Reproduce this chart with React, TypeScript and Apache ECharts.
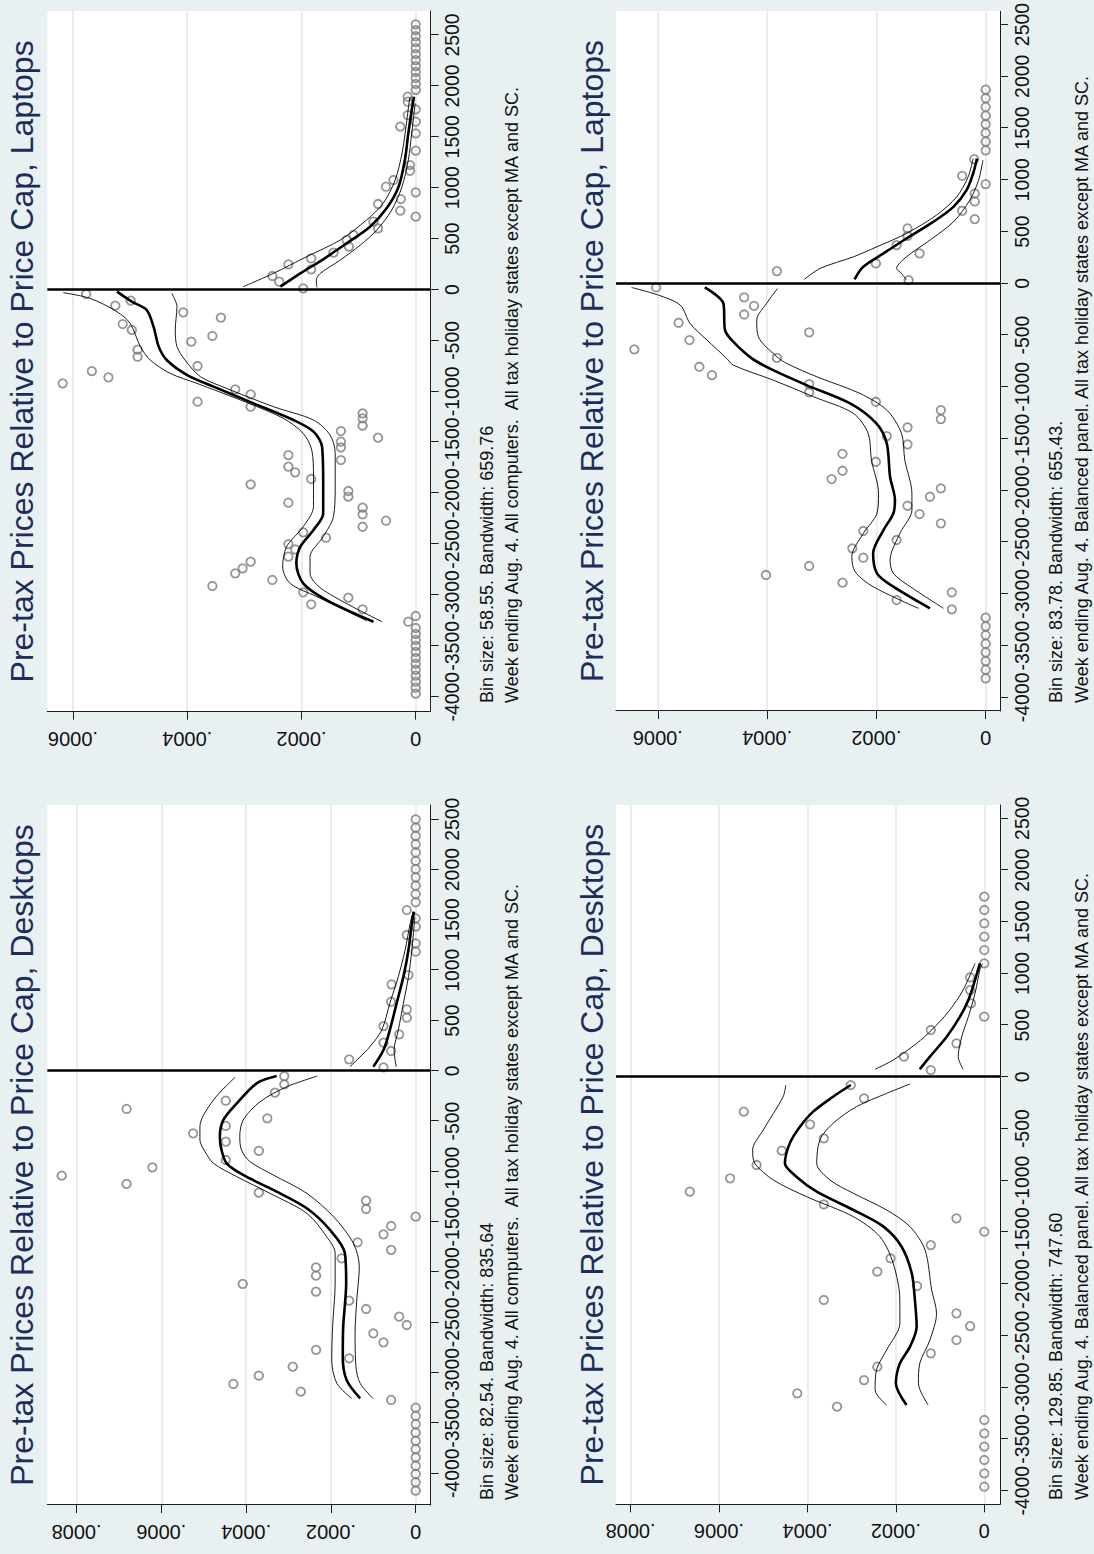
import React, { useEffect, useRef } from "react";
import * as echarts from "echarts";

type Pt = [number, number]; // [price relative to cap, density x 10^4]

const PRICE_TICKS = [-4000, -3500, -3000, -2500, -2000, -1500, -1000, -500, 0, 500, 1000, 1500, 2000, 2500];
const DENSITY_TICKS_DESKTOP = [0, 2, 4, 6, 8]; // x 10^-4
const DENSITY_TICKS_LAPTOP = [0, 2, 4, 6]; // x 10^-4

const TITLES = [
  "Pre-tax Prices Relative to Price Cap, Desktops",
  "Pre-tax Prices Relative to Price Cap, Laptops",
  "Pre-tax Prices Relative to Price Cap, Desktops",
  "Pre-tax Prices Relative to Price Cap, Laptops",
];
const BIN_NOTES = [
  "Bin size: 82.54. Bandwidth: 835.64",
  "Bin size: 58.55. Bandwidth: 659.76",
  "Bin size: 129.85. Bandwidth: 747.60",
  "Bin size: 83.78. Bandwidth: 655.43.",
];
const SAMPLE_NOTES = [
  "Week ending Aug. 4. All computers.  All tax holiday states except MA and SC.",
  "Week ending Aug. 4. All computers.  All tax holiday states except MA and SC.",
  "Week ending Aug. 4. Balanced panel. All tax holiday states except MA and SC.",
  "Week ending Aug. 4. Balanced panel. All tax holiday states except MA and SC.",
];

// ---------- Desktops, all computers ----------
const desktopsAllBins: Pt[] = [
  [2500, 0], [2417, 0], [2335, 0], [2252, 0], [2170, 0], [2087, 0], [2005, 0], [1922, 0], [1840, 0], [1757, 0], [1675, 0],
  [1598, 0.21], [1516, 0], [1433, 0], [1350, 0.21], [1267, 0], [1184, 0],
  [952, 0.17], [860, 0.57], [687, 0.58], [611, 0.21], [528, 0.21], [445, 0.76], [363, 0.39], [280, 0.76], [197, 0.58], [114, 1.57], [35, 0.76],
  [-52, 3.1], [-134, 3.1], [-217, 3.32], [-297, 4.48], [-379, 6.82], [-472, 3.5], [-548, 4.48], [-621, 5.25], [-704, 4.48], [-795, 3.7],
  [-886, 4.48], [-959, 6.21], [-1042, 8.35], [-1124, 6.82], [-1211, 3.7], [-1290, 1.17], [-1373, 1.17], [-1449, 0], [-1542, 0.58], [-1625, 0.76],
  [-1704, 1.37], [-1780, 0.58], [-1863, 1.75], [-1953, 2.35], [-2035, 2.35], [-2118, 4.08], [-2194, 2.35], [-2284, 1.57], [-2367, 1.17], [-2443, 0.39],
  [-2526, 0.21], [-2609, 1.0], [-2698, 0.76], [-2774, 2.35], [-2857, 1.57], [-2940, 2.9], [-3029, 3.7], [-3112, 4.3], [-3188, 2.71], [-3271, 0.58],
  [-3347, 0], [-3430, 0], [-3512, 0], [-3595, 0], [-3677, 0], [-3760, 0], [-3842, 0], [-3925, 0], [-4007, 0], [-4090, 0], [-4172, 0],
];
const desktopsAllFitAbove: Pt[] = [[41, 1.0], [207, 0.76], [406, 0.61], [671, 0.45], [936, 0.29], [1201, 0.17], [1466, 0.09], [1582, 0.04]];
const desktopsAllHiAbove: Pt[] = [[41, 1.55], [240, 1.08], [406, 0.8], [671, 0.61], [936, 0.41], [1201, 0.25], [1466, 0.13], [1582, 0.06]];
const desktopsAllLoAbove: Pt[] = [[41, 0.46], [207, 0.51], [406, 0.41], [671, 0.29], [936, 0.17], [1201, 0.09], [1532, 0.02]];
const desktopsAllFitBelow: Pt[] = [
  [-52, 3.28], [-124, 3.75], [-323, 4.22], [-489, 4.54], [-654, 4.62], [-787, 4.58], [-919, 4.46], [-1035, 4.07], [-1184, 3.36],
  [-1366, 2.57], [-1582, 2.02], [-1813, 1.67], [-2112, 1.64], [-2542, 1.71], [-2841, 1.72], [-3072, 1.63], [-3255, 1.31],
];
const desktopsAllHiBelow: Pt[] = [
  [-65, 4.26], [-290, 4.77], [-555, 5.09], [-687, 5.09], [-803, 4.97], [-919, 4.77], [-1052, 4.22], [-1217, 3.44], [-1416, 2.57],
  [-1648, 2.1], [-1813, 1.9], [-2112, 1.9], [-2542, 1.96], [-2874, 1.98], [-3106, 1.86], [-3255, 1.51],
];
const desktopsAllLoBelow: Pt[] = [
  [-52, 2.32], [-158, 3.04], [-307, 3.67], [-489, 4.07], [-654, 4.15], [-787, 4.11], [-902, 3.91], [-1035, 3.36], [-1217, 2.57],
  [-1449, 1.94], [-1714, 1.47], [-1946, 1.33], [-2277, 1.39], [-2609, 1.43], [-2940, 1.41], [-3106, 1.31], [-3255, 1.01],
];

// ---------- Laptops, all computers ----------
const laptopsAllBins: Pt[] = [
  [2605, 0], [2547, 0], [2488, 0], [2430, 0], [2371, 0], [2312, 0], [2254, 0], [2195, 0], [2137, 0], [2078, 0], [2020, 0], [1961, 0],
  [1894, 0.14], [1845, 0.14], [1770, 0], [1714, 0.14], [1649, 0], [1600, 0.27], [1534, 0], [1364, 0], [1223, 0.1], [1167, 0.1],
  [1076, 0.39], [1010, 0.52], [955, 0], [889, 0.26], [840, 0.66], [775, 0.27], [716, 0], [667, 0.74], [601, 0.66], [536, 1.09],
  [487, 1.21], [421, 1.17], [362, 1.44], [306, 1.83], [247, 2.23], [198, 1.83], [133, 2.51], [77, 2.39], [12, 1.97],
  [-44, 5.77], [-109, 4.99], [-158, 5.26], [-224, 4.07], [-276, 3.41], [-339, 5.13], [-397, 4.97], [-456, 3.56], [-512, 3.93],
  [-590, 4.87], [-660, 4.87], [-751, 3.82], [-801, 5.67], [-863, 5.38], [-922, 6.18], [-981, 3.16], [-1030, 2.89], [-1102, 3.82],
  [-1151, 2.89], [-1216, 0.93], [-1265, 0.93], [-1337, 0.93], [-1390, 1.31], [-1455, 0.66], [-1495, 1.31], [-1550, 1.31], [-1626, 2.23],
  [-1675, 1.31], [-1740, 2.23], [-1796, 2.11], [-1861, 1.83], [-1914, 2.89], [-1979, 1.18], [-2035, 1.18], [-2094, 2.23], [-2143, 0.93],
  [-2208, 0.93], [-2271, 0.52], [-2330, 0.93], [-2385, 1.97], [-2438, 1.57], [-2500, 2.23], [-2552, 2.11], [-2624, 2.23], [-2673, 2.89],
  [-2739, 3.03], [-2788, 3.16], [-2853, 2.51], [-2912, 3.56], [-2974, 1.97], [-3027, 1.18], [-3092, 1.83], [-3141, 0.93], [-3207, 0], [-3263, 0.13],
  [-3325, 0], [-3383, 0], [-3442, 0], [-3500, 0], [-3559, 0], [-3618, 0], [-3676, 0], [-3735, 0], [-3793, 0], [-3852, 0], [-3910, 0], [-3969, 0],
];
const laptopsAllFitAbove: Pt[] = [[28, 2.37], [159, 2.02], [297, 1.62], [454, 1.21], [617, 0.8], [798, 0.51], [1010, 0.3], [1272, 0.19], [1534, 0.13], [1763, 0.07], [1894, 0.03]];
const laptopsAllHiAbove: Pt[] = [[28, 3.02], [159, 2.49], [323, 1.91], [487, 1.32], [683, 0.86], [847, 0.57], [1076, 0.36], [1338, 0.24], [1600, 0.17], [1862, 0.11], [1894, 0.09]];
const laptopsAllLoAbove: Pt[] = [[22, 1.73], [94, 1.74], [159, 1.67], [290, 1.32], [437, 0.97], [585, 0.68], [781, 0.42], [1010, 0.24], [1272, 0.13], [1534, 0.07], [1829, 0.01]];
const laptopsAllFitBelow: Pt[] = [
  [-21, 5.23], [-119, 4.97], [-201, 4.71], [-365, 4.59], [-561, 4.5], [-692, 4.36], [-840, 4.0], [-954, 3.54], [-1118, 2.84], [-1282, 2.14],
  [-1396, 1.79], [-1544, 1.64], [-1904, 1.62], [-2199, 1.62], [-2362, 1.79], [-2526, 2.02], [-2690, 2.09], [-2886, 1.97], [-3050, 1.56], [-3263, 0.74],
];
const laptopsAllHiBelow: Pt[] = [
  [-31, 6.17], [-87, 5.7], [-218, 5.23], [-332, 5.0], [-561, 4.82], [-692, 4.65], [-823, 4.3], [-922, 3.83], [-1085, 3.07], [-1265, 2.32],
  [-1413, 1.97], [-1577, 1.82], [-1838, 1.79], [-2133, 1.79], [-2330, 1.97], [-2526, 2.26], [-2723, 2.33], [-2886, 2.2], [-3017, 1.73], [-3253, 0.86],
];
const laptopsAllLoBelow: Pt[] = [
  [-38, 4.27], [-168, 4.18], [-397, 4.21], [-561, 4.18], [-692, 4.04], [-856, 3.77], [-971, 3.31], [-1151, 2.49], [-1282, 1.79], [-1429, 1.5],
  [-1609, 1.41], [-1937, 1.41], [-2231, 1.44], [-2428, 1.62], [-2624, 1.85], [-2788, 1.85], [-2952, 1.62], [-3263, 0.59],
];

// ---------- Desktops, balanced panel ----------
const desktopsBalBins: Pt[] = [
  [1743, 0], [1614, 0], [1485, 0], [1356, 0], [1227, 0], [1098, 0],
  [963, 0.32], [840, 0.32], [712, 0.3], [583, 0], [454, 1.21], [325, 0.63], [196, 1.82], [67, 1.21],
  [-78, 3.02], [-207, 2.72], [-335, 5.44], [-458, 3.94], [-593, 3.63], [-712, 4.58], [-851, 5.15], [-980, 5.75], [-1109, 6.66], [-1232, 3.63],
  [-1367, 0.63], [-1496, 0], [-1625, 1.21], [-1754, 2.12], [-1882, 2.42], [-2021, 1.52], [-2156, 3.63], [-2285, 0.63], [-2408, 0.32],
  [-2543, 0.63], [-2672, 1.21], [-2801, 2.42], [-2930, 2.72], [-3059, 4.23], [-3187, 3.33],
  [-3316, 0], [-3445, 0], [-3574, 0], [-3703, 0], [-3832, 0], [-3961, 0],
];
const desktopsBalFitAbove: Pt[] = [[74, 1.46], [196, 1.23], [389, 0.85], [583, 0.55], [744, 0.36], [937, 0.21], [1098, 0.1]];
const desktopsBalHiAbove: Pt[] = [[74, 2.47], [164, 2.06], [325, 1.53], [454, 1.19], [647, 0.78], [840, 0.48], [1098, 0.21]];
const desktopsBalLoAbove: Pt[] = [[74, 0.48], [196, 0.59], [389, 0.51], [583, 0.36], [808, 0.21], [1034, 0.1], [1098, 0.04]];
const desktopsBalFitBelow: Pt[] = [
  [-78, 3.02], [-191, 3.42], [-335, 3.87], [-481, 4.17], [-642, 4.4], [-835, 4.51], [-964, 4.25], [-1109, 3.79], [-1286, 2.96],
  [-1447, 2.28], [-1641, 1.87], [-1899, 1.64], [-2156, 1.57], [-2414, 1.53], [-2607, 1.68], [-2769, 1.91], [-2962, 2.0], [-3171, 1.76],
];
const desktopsBalHiBelow: Pt[] = [
  [-78, 4.49], [-191, 4.55], [-513, 5.0], [-706, 5.24], [-835, 5.19], [-996, 4.77], [-1157, 4.02], [-1351, 2.96], [-1544, 2.36],
  [-1802, 2.06], [-2156, 1.91], [-2382, 1.91], [-2640, 2.21], [-2833, 2.44], [-3026, 2.47], [-3171, 2.21],
];
const desktopsBalLoBelow: Pt[] = [
  [-68, 1.68], [-159, 2.21], [-287, 2.89], [-448, 3.42], [-610, 3.72], [-835, 3.79], [-996, 3.49], [-1125, 2.96], [-1286, 2.21],
  [-1447, 1.68], [-1673, 1.34], [-2060, 1.19], [-2285, 1.08], [-2543, 1.23], [-2769, 1.46], [-2962, 1.49], [-3171, 1.27],
];

// ---------- Laptops, balanced panel ----------
const laptopsBalBins: Pt[] = [
  [1872, 0], [1788, 0], [1704, 0], [1620, 0], [1537, 0], [1453, 0], [1369, 0], [1285, 0],
  [1200, 0.21], [1039, 0.43], [958, 0], [868, 0.2], [791, 0.2], [701, 0.43], [620, 0.2], [530, 1.43], [459, 1.43], [369, 1.63],
  [289, 1.21], [192, 2.01], [118, 3.82], [31, 1.41],
  [-40, 6.03], [-136, 4.42], [-217, 4.24], [-301, 4.42], [-381, 5.62], [-474, 3.23], [-548, 5.42], [-638, 6.43], [-720, 3.82],
  [-806, 5.24], [-887, 5.01], [-974, 3.23], [-1054, 3.23], [-1144, 2.01], [-1225, 0.82], [-1312, 0.82], [-1392, 1.43], [-1476, 1.81],
  [-1556, 1.43], [-1647, 2.62], [-1724, 2.01], [-1811, 2.62], [-1891, 2.82], [-1981, 0.82], [-2062, 1.02], [-2149, 1.43], [-2229, 1.21],
  [-2319, 0.82], [-2393, 2.24], [-2480, 1.63], [-2561, 2.44], [-2651, 2.24], [-2731, 3.23], [-2818, 4.02], [-2892, 2.62], [-2986, 0.62],
  [-3060, 1.63], [-3150, 0.62],
  [-3230, 0], [-3314, 0], [-3398, 0], [-3482, 0], [-3566, 0], [-3650, 0], [-3733, 0], [-3817, 0],
];
const laptopsBalFitAbove: Pt[] = [[38, 2.4], [160, 2.24], [289, 1.87], [433, 1.45], [594, 0.96], [739, 0.59], [900, 0.35], [1061, 0.23], [1206, 0.16]];
const laptopsBalHiAbove: Pt[] = [[38, 3.32], [144, 3.03], [256, 2.42], [353, 1.99], [482, 1.45], [659, 0.9], [836, 0.53], [1029, 0.32], [1206, 0.23]];
const laptopsBalLoAbove: Pt[] = [[31, 1.45], [95, 1.54], [144, 1.63], [256, 1.45], [417, 1.02], [594, 0.59], [804, 0.29], [997, 0.13], [1190, 0.05]];
const laptopsBalFitBelow: Pt[] = [
  [-40, 5.14], [-194, 4.8], [-452, 4.77], [-564, 4.62], [-725, 4.28], [-839, 3.89], [-983, 3.28], [-1160, 2.48], [-1354, 2.0],
  [-1547, 1.81], [-1869, 1.75], [-2094, 1.66], [-2223, 1.69], [-2384, 1.87], [-2609, 2.06], [-2802, 1.99], [-2931, 1.69], [-3140, 1.02],
];
const laptopsBalHiBelow: Pt[] = [
  [-40, 6.48], [-114, 5.99], [-210, 5.59], [-387, 5.41], [-548, 5.1], [-725, 4.74], [-790, 4.62], [-935, 3.89], [-1096, 3.15],
  [-1257, 2.42], [-1450, 2.15], [-1708, 2.09], [-2030, 1.96], [-2223, 1.99], [-2416, 2.24], [-2641, 2.45], [-2786, 2.39], [-2931, 2.06], [-3140, 1.23],
];
const laptopsBalLoBelow: Pt[] = [
  [-50, 3.81], [-194, 4.01], [-355, 4.19], [-516, 4.16], [-710, 3.82], [-774, 3.64], [-903, 3.09], [-1064, 2.3], [-1225, 1.81],
  [-1450, 1.54], [-1708, 1.48], [-2030, 1.35], [-2191, 1.35], [-2416, 1.57], [-2673, 1.75], [-2802, 1.69], [-2931, 1.38], [-3140, 0.77],
];

const FONT = "'Liberation Sans', Arial, Helvetica, sans-serif";
const BG = "#e8f0f2";
const GRID_LINE = "#e1eaee";
const AXIS = "#1e1e1e";
const TITLE_COLOR = "#1c2d5c";
const MARKER = "#7a7a7a";

type Panel = {
  grid: { left: number; top: number; width: number; height: number };
  xMin: number; xMax: number; yMin: number; yMax: number;
  yTicks: number[];
  bins: Pt[];
  fits: Pt[][];
  bands: Pt[][];
  title: string; bin: string; sample: string;
  titleX: number; titleY: number; noteX: number; noteY: number[];
};

const panels: Panel[] = [
  {
    grid: { left: 49, top: 47.3, width: 700, height: 383.4 },
    xMin: -4315, xMax: 2642, yMin: -0.354, yMax: 8.69, yTicks: DENSITY_TICKS_DESKTOP,
    bins: desktopsAllBins,
    fits: [desktopsAllFitAbove, desktopsAllFitBelow],
    bands: [desktopsAllHiAbove, desktopsAllLoAbove, desktopsAllHiBelow, desktopsAllLoBelow],
    title: TITLES[0], bin: BIN_NOTES[0], sample: SAMPLE_NOTES[0],
    titleX: 399, titleY: 22, noteX: 54, noteY: [487, 512],
  },
  {
    grid: { left: 842.3, top: 47.3, width: 700.7, height: 383.4 },
    xMin: -4147, xMax: 2736, yMin: -0.262, yMax: 6.45, yTicks: DENSITY_TICKS_LAPTOP,
    bins: laptopsAllBins,
    fits: [laptopsAllFitAbove, laptopsAllFitBelow],
    bands: [laptopsAllHiAbove, laptopsAllLoAbove, laptopsAllHiBelow, laptopsAllLoBelow],
    title: TITLES[1], bin: BIN_NOTES[1], sample: SAMPLE_NOTES[1],
    titleX: 1192.6, titleY: 22, noteX: 851, noteY: [487, 512],
  },
  {
    grid: { left: 49.7, top: 616, width: 699.3, height: 384 },
    xMin: -4131, xMax: 2629, yMin: -0.355, yMax: 8.33, yTicks: DENSITY_TICKS_DESKTOP,
    bins: desktopsBalBins,
    fits: [desktopsBalFitAbove, desktopsBalFitBelow],
    bands: [desktopsBalHiAbove, desktopsBalLoAbove, desktopsBalHiBelow, desktopsBalLoBelow],
    title: TITLES[2], bin: BIN_NOTES[2], sample: SAMPLE_NOTES[2],
    titleX: 399.4, titleY: 592, noteX: 54, noteY: [1056, 1082],
  },
  {
    grid: { left: 843, top: 616, width: 700, height: 384 },
    xMin: -4132, xMax: 2628, yMin: -0.262, yMax: 6.765, yTicks: DENSITY_TICKS_LAPTOP,
    bins: laptopsBalBins,
    fits: [laptopsBalFitAbove, laptopsBalFitBelow],
    bands: [laptopsBalHiAbove, laptopsBalLoAbove, laptopsBalHiBelow, laptopsBalLoBelow],
    title: TITLES[3], bin: BIN_NOTES[3], sample: SAMPLE_NOTES[3],
    titleX: 1193, titleY: 592, noteX: 851, noteY: [1056, 1082],
  },
];

function buildOption() {
  const grids: any[] = [];
  const xAxes: any[] = [];
  const yAxes: any[] = [];
  const series: any[] = [];
  const graphics: any[] = [];

  panels.forEach((p, i) => {
    grids.push({ ...p.grid, containLabel: false });
    xAxes.push({
      type: "value",
      gridIndex: i,
      min: p.xMin,
      max: p.xMax,
      axisLine: { show: true, onZero: false, lineStyle: { color: AXIS, width: 1 } },
      axisTick: { show: true, length: 8, customValues: PRICE_TICKS, lineStyle: { color: AXIS, width: 1 } },
      axisLabel: {
        show: true,
        customValues: PRICE_TICKS,
        showMinLabel: true,
        showMaxLabel: true,
        hideOverlap: false,
        margin: 12,
        fontSize: 19.4,
        fontFamily: FONT,
        color: "#111",
        formatter: (v: number) => String(Math.round(v)),
      },
      splitLine: { show: false },
    });
    yAxes.push({
      type: "value",
      gridIndex: i,
      min: p.yMin,
      max: p.yMax,
      axisLine: { show: true, onZero: false, lineStyle: { color: AXIS, width: 1 } },
      axisTick: { show: true, length: 8, customValues: p.yTicks, lineStyle: { color: AXIS, width: 1 } },
      axisLabel: {
        show: true,
        customValues: p.yTicks,
        showMinLabel: true,
        showMaxLabel: true,
        rotate: 90,
        margin: 17,
        fontSize: 20,
        fontFamily: FONT,
        color: "#111",
        formatter: (v: number) => (v === 0 ? "0" : ".000" + Math.round(v)),
      },
      splitLine: { show: true, lineStyle: { color: GRID_LINE, width: 1.6 } },
    });

    series.push({
      type: "scatter",
      xAxisIndex: i,
      yAxisIndex: i,
      data: p.bins,
      symbol: "circle",
      symbolSize: 8.5,
      itemStyle: { color: "rgba(255,255,255,0)", borderColor: MARKER, borderWidth: 1.8 },
      z: 2,
      markLine: {
        silent: true,
        symbol: "none",
        label: { show: false },
        lineStyle: { color: "#000", width: 2.6, type: "solid" },
        data: [{ xAxis: 0 }],
      },
    });
    p.fits.forEach((f) => {
      series.push({
        type: "line",
        xAxisIndex: i,
        yAxisIndex: i,
        data: f,
        showSymbol: false,
        symbol: "none",
        smooth: 0.3,
        lineStyle: { color: "#000", width: 2.6 },
        z: 4,
      });
    });
    p.bands.forEach((b) => {
      series.push({
        type: "line",
        xAxisIndex: i,
        yAxisIndex: i,
        data: b,
        showSymbol: false,
        symbol: "none",
        smooth: 0.3,
        lineStyle: { color: "#000", width: 0.9 },
        z: 3,
      });
    });

    graphics.push({
      type: "text",
      x: p.titleX,
      y: p.titleY,
      style: {
        text: p.title,
        fill: TITLE_COLOR,
        fontSize: 32,
        fontFamily: FONT,
        align: "center",
        verticalAlign: "middle",
        textAlign: "center",
        textVerticalAlign: "middle",
      },
    });
    [p.bin, p.sample].forEach((t, k) => {
      graphics.push({
        type: "text",
        x: p.noteX,
        y: p.noteY[k],
        style: {
          text: t,
          fill: "#111",
          fontSize: 18,
          fontFamily: FONT,
          align: "left",
          verticalAlign: "middle",
          textAlign: "left",
          textVerticalAlign: "middle",
        },
      });
    });
  });

  return {
    animation: false,
    backgroundColor: BG,
    grid: grids,
    xAxis: xAxes,
    yAxis: yAxes,
    series,
    graphic: { elements: graphics },
  };
}

// white plot regions behind everything
function plotBackgrounds() {
  return panels.map((p) => ({
    type: "rect",
    z: -10,
    shape: { x: p.grid.left, y: p.grid.top, width: p.grid.width, height: p.grid.height },
    style: { fill: "#ffffff" },
    silent: true,
  }));
}

export default function App() {
  const ref = useRef<HTMLDivElement>(null);
  useEffect(() => {
    if (!ref.current) return;
    const chart = echarts.init(ref.current, null, { renderer: "svg" });
    const opt: any = buildOption();
    opt.graphic.elements = [...plotBackgrounds(), ...opt.graphic.elements];
    chart.setOption(opt);
    return () => chart.dispose();
  }, []);
  return (
    <div style={{ position: "absolute", left: 0, top: 0, width: 1094, height: 1554, overflow: "hidden" }}>
      <div
        ref={ref}
        style={{
          position: "absolute",
          left: 0,
          top: 0,
          width: 1554,
          height: 1094,
          transformOrigin: "0 0",
          transform: "rotate(-90deg) translateX(-1554px)",
        }}
      />
    </div>
  );
}
